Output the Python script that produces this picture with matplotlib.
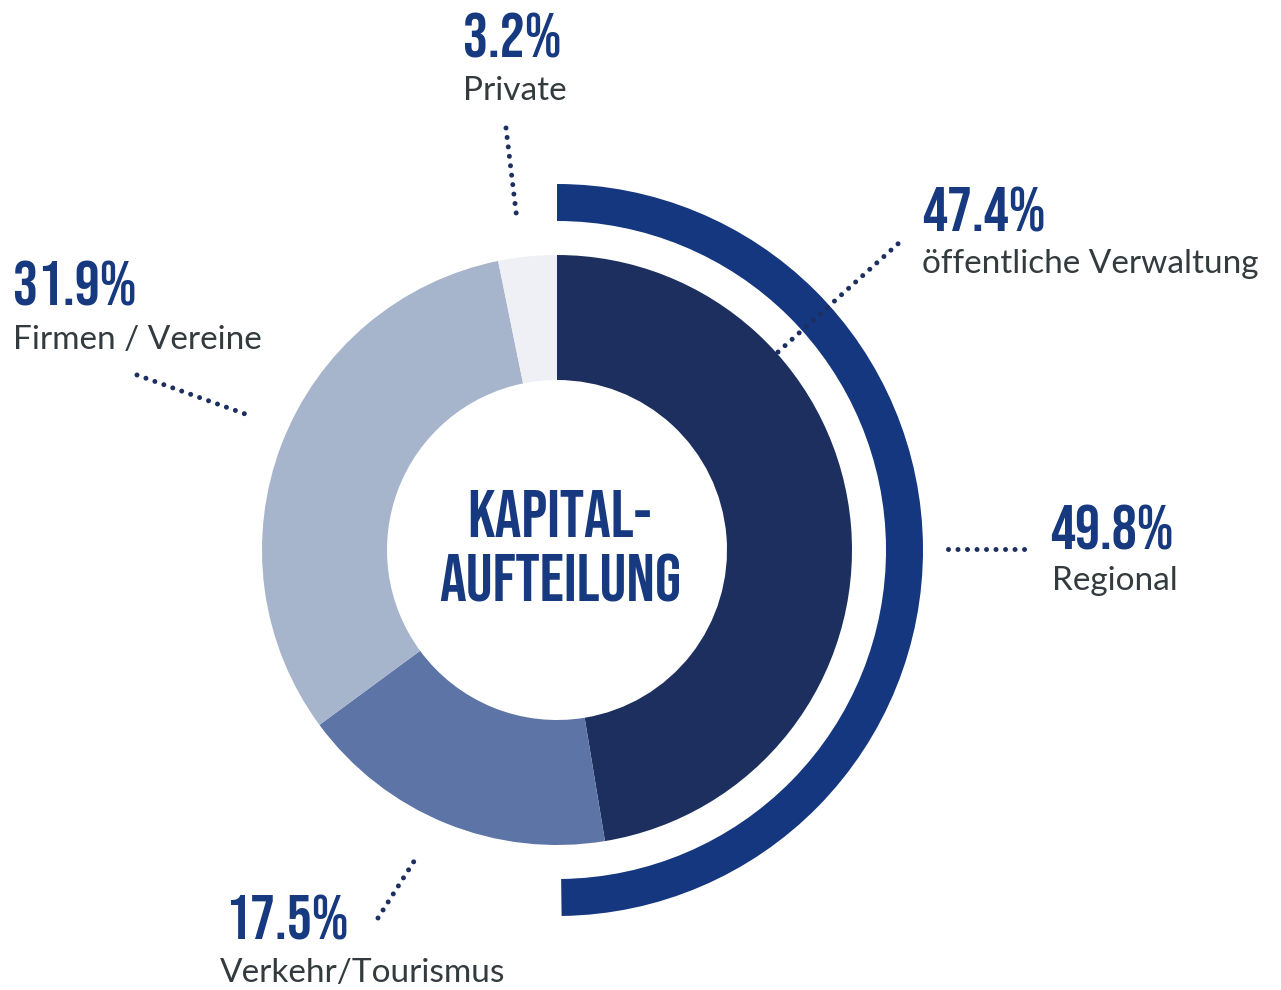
import matplotlib
matplotlib.use("Agg")
import matplotlib.pyplot as plt

# ---- data ----
categories = ["öffentliche Verwaltung", "Verkehr/Tourismus", "Firmen / Vereine", "Private"]
shares = [47.4, 17.5, 31.9, 3.2]
regional_label = "Regional"
regional_share = 49.8
center_title = ["KAPITAL-", "AUFTEILUNG"]

# ---- style ----
slice_colors = ["#1c2f5f", "#5d74a6", "#a6b4cc", "#eef0f5"]
arc_color = "#14377f"
pct_color = "#16397f"
lbl_color = "#333b3e"
dot_color = "#1c2f5f"
PCT_FONT = ["Bebas Neue", "Oswald", "DejaVu Sans"]
LBL_FONT = ["Lato", "DejaVu Sans"]

W, H = 1281, 990
fig = plt.figure(figsize=(W / 100, H / 100), dpi=100)
ax = fig.add_axes([0, 0, 1, 1])


def P(x, y):
    return x, H - y


cx, cy = P(557, 550)

ax.pie(shares, colors=slice_colors, startangle=90, counterclock=False,
       radius=295, center=(cx, cy),
       wedgeprops=dict(width=125, linewidth=0))
ax.pie([regional_share, 100 - regional_share], colors=[arc_color, "none"],
       startangle=90, counterclock=False, radius=366, center=(cx, cy),
       wedgeprops=dict(width=37, linewidth=0))

ax.set_xlim(0, W)
ax.set_ylim(0, H)
ax.set_aspect("auto")
ax.axis("off")

# center title
for line, yb in zip(center_title, [537, 602]):
    ax.text(*P(560, yb), line, ha="center", va="baseline", fontsize=48,
            color=pct_color, family=PCT_FONT)

# labels: (value, label, x_pct, y_pct_baseline, x_lbl, y_lbl_baseline)
entries = [
    (shares[3], categories[3], 463, 57, 463, 100),
    (shares[0], categories[0], 922, 232, 922, 273),
    (regional_share, regional_label, 1050, 550, 1052, 590),
    (shares[2], categories[2], 13, 305, 13, 349),
    (shares[1], categories[1], 225, 940, 220, 982),
]
for val, lbl, xp, yp, xl, yl in entries:
    ax.text(*P(xp, yp), f"{val:.1f}%", ha="left", va="baseline", fontsize=45,
            color=pct_color, family=PCT_FONT)
    ax.text(*P(xl, yl), lbl, ha="left", va="baseline", fontsize=24,
            color=lbl_color, family=LBL_FONT)

# dotted leader lines
leaders = [
    ((506, 128), (517, 220)),
    ((137, 375), (248, 415)),
    ((778, 352), (900, 242)),
    ((948, 549), (1033, 549)),
    ((378, 918), (418, 855)),
]
for (x0, y0), (x1, y1) in leaders:
    X0, Y0 = P(x0, y0)
    X1, Y1 = P(x1, y1)
    ax.plot([X0, X1], [Y0, Y1], color=dot_color, linewidth=3.6,
            linestyle=(0, (0.001, 1.9)), dash_capstyle="round",
            solid_capstyle="round")

fig.savefig("out.png", dpi=100)
